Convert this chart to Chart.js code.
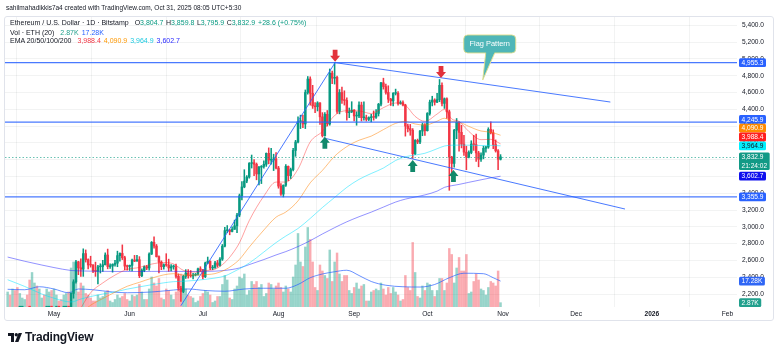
<!DOCTYPE html>
<html><head><meta charset="utf-8">
<script src="https://cdn.jsdelivr.net/npm/chart.js@4.4.1/dist/chart.umd.min.js"></script>
<style>
html,body{margin:0;padding:0;background:#fff;width:780px;height:354px;overflow:hidden;font-family:"Liberation Sans",Arial,sans-serif;color:#131722;}
#wrap{position:relative;width:780px;height:354px;}
#c{position:absolute;left:0;top:0;}
#frame{position:absolute;left:4px;top:16px;width:770px;height:305px;box-sizing:border-box;border:1px solid #e0e3eb;border-radius:3px;pointer-events:none;}
#hdr{position:absolute;left:6px;top:4px;font-size:6.5px;line-height:8px;white-space:nowrap;}
.lg{position:absolute;left:10px;font-size:7px;line-height:8px;white-space:nowrap;}
.k{margin-left:2.5px}.sp{margin-left:3px}
#logo{position:absolute;left:8px;top:330px;height:14px;display:flex;align-items:center;font-weight:bold;font-size:12px;letter-spacing:-0.2px;}
#logo svg{margin-right:3px}
</style></head>
<body><div id="wrap">
<canvas id="c" width="780" height="354"></canvas>
<div id="frame"></div>
<div id="hdr">sahilmahadikkis7a4 created with TradingView.com, Oct 31, 2025 08:05 UTC+5:30</div>
<div class="lg" id="l1" style="top:19px"></div>
<div class="lg" id="l2" style="top:28.5px"></div>
<div class="lg" id="l3" style="top:37px"></div>
<div id="logo"><svg width="14" height="9" viewBox="0 0 14 9"><path d="M0 0H6V9H3V3H0Z" fill="#131722"/><circle cx="8.3" cy="1.7" r="1.7" fill="#131722"/><path d="M10.6 0H14L10.4 9H7Z" fill="#131722"/></svg>TradingView</div>
</div>
<script>
// Days are counted from 2025-05-01 (day 0). First candle: 2025-04-12.
const firstDay = -19;
const opens = [
1566,1645,1597,1623,1588,1577,1584,1589,1614,1587,1579,1757,1796,1770,1786,1820,1793,1799,1800,
1794,1839,1843,1834,1807,1816,1818,1811,2207,2345,2583,2512,2496,2681,2609,2546,2545,2476,2471,2524,2527,2549,2664,2527,2533,2553,2567,2657,2683,2632,2532,
2528,2541,2605,2591,2609,2418,2480,2525,2510,2676,2815,2771,2645,2580,2525,2547,2545,2510,2525,2525,2410,2270,2230,2410,2450,2420,2415,2425,2435,2500,
2485,2407,2570,2590,2510,2515,2570,2542,2615,2770,2955,2960,2945,2970,3012,3140,3370,3475,3545,3593,3755,3763,3745,3630,3710,3720,3745,3875,3795,3795,3810,
3700,3485,3390,3495,3720,3610,3682,3910,4010,4255,4255,4225,4600,4760,4590,4440,4430,4475,4310,4085,4340,4225,4830,4770,4780,4375,4600,4510,4505,4360,4370,
4390,4320,4320,4450,4300,4300,4280,4300,4310,4305,4350,4460,4715,4670,4600,4520,4500,4590,4590,4470,4480,4450,4200,4170,4150,3870,4030,4010,4140,4215,
4145,4350,4485,4510,4485,4515,4685,4470,4525,4370,3830,3755,4150,4245,4125,3985,3890,3830,3885,3985,3980,3880,3805,3855,3935,3950,4160,4120,3980,3905,3804.7];
const highs = [
1690,1660,1690,1660,1620,1610,1597,1625,1635,1655,1785,1830,1800,1825,1835,1850,1825,1830,1815,
1875,1868,1850,1845,1835,1820,1850,2215,2370,2600,2590,2620,2738,2725,2620,2650,2550,2580,2540,2560,2600,2690,2735,2560,2560,2600,2710,2690,2785,2650,2545,
2545,2615,2660,2660,2645,2500,2535,2540,2690,2825,2880,2790,2655,2595,2560,2680,2615,2550,2545,2555,2440,2290,2425,2490,2490,2480,2445,2445,2510,2525,
2495,2580,2640,2595,2540,2590,2600,2635,2790,2995,3015,2970,3000,3080,3160,3390,3540,3680,3610,3765,3855,3800,3760,3720,3730,3785,3880,3940,3935,3865,3885,
3720,3515,3500,3740,3725,3700,3935,4030,4310,4330,4330,4630,4790,4785,4685,4480,4490,4480,4360,4360,4385,4880,4855,4955.3,4795,4635,4665,4620,4535,4415,4490,
4395,4370,4490,4485,4490,4330,4310,4340,4380,4395,4470,4720,4770,4700,4680,4530,4600,4640,4610,4500,4500,4460,4225,4220,4170,4040,4045,4150,4235,4230,
4360,4510,4555,4525,4590,4755,4715,4535,4535,4390,3840,4160,4290,4250,4210,4090,3960,3905,4025,4090,4105,3900,3880,3960,3960,4180,4250,4155,4035,3920,3859.8];
const lows = [
1543,1576,1595,1580,1535,1565,1572,1578,1570,1560,1570,1755,1730,1740,1775,1785,1745,1780,1745,
1792,1825,1822,1796,1790,1753,1780,1800,2150,2330,2430,2410,2410,2580,2500,2520,2455,2410,2320,2450,2470,2545,2500,2505,2460,2530,2525,2590,2610,2490,2485,
2480,2475,2585,2590,2395,2405,2465,2490,2485,2670,2745,2640,2450,2490,2495,2530,2470,2475,2495,2390,2245,2111,2215,2385,2390,2400,2380,2415,2425,2470,
2380,2395,2560,2490,2490,2505,2520,2530,2600,2760,2930,2905,2940,2970,2930,3120,3320,3465,3525,3580,3700,3610,3560,3500,3515,3700,3720,3750,3745,3670,3690,
3460,3375,3355.9,3480,3550,3575,3665,3840,4000,4170,4180,4170,4580,4450,4410,4360,4380,4220,4070,4080,4200,4210,4705,4700,4350,4345,4470,4450,4270,4300,4360,
4260,4210,4300,4260,4270,4260,4265,4250,4270,4290,4320,4440,4640,4580,4480,4445,4440,4570,4450,4460,4440,4080,4130,4090,3815,3860,3990,3990,4085,4090,
4140,4330,4440,4450,4480,4490,4440,4410,4290,3435,3630,3710,4050,3900,3940,3850,3680,3820,3870,3910,3780,3715,3780,3810,3890,3935,4105,3930,3890,3680,3795.9];
const closes = [
1645,1597,1623,1588,1577,1584,1589,1614,1587,1579,1757,1796,1770,1786,1820,1793,1799,1800,1794,
1839,1843,1834,1807,1816,1818,1811,2207,2345,2583,2512,2496,2681,2609,2546,2545,2476,2471,2524,2527,2549,2664,2527,2533,2553,2567,2657,2683,2632,2532,2528,
2541,2605,2591,2609,2418,2480,2525,2510,2676,2815,2771,2645,2580,2525,2547,2545,2510,2525,2525,2410,2270,2230,2410,2450,2420,2415,2425,2435,2500,2485,
2407,2570,2590,2510,2515,2570,2542,2615,2770,2955,2960,2945,2970,3012,3140,3370,3475,3545,3593,3755,3763,3745,3630,3710,3720,3745,3875,3795,3795,3810,3700,
3485,3390,3495,3720,3610,3682,3910,4010,4255,4255,4225,4600,4760,4590,4440,4430,4475,4310,4085,4340,4225,4830,4770,4780,4375,4600,4510,4505,4360,4370,4390,
4320,4320,4450,4300,4300,4280,4300,4310,4305,4350,4460,4715,4670,4600,4520,4500,4590,4590,4470,4480,4450,4200,4170,4150,3870,4030,4010,4140,4215,4145,
4350,4485,4510,4485,4515,4685,4470,4525,4370,3830,3755,4150,4245,4125,3985,3890,3830,3885,3985,3980,3880,3805,3855,3935,3950,4160,4120,3980,3905,3804.3,3832.9];
const volumes = [ // thousands of ETH
10,8,12,11,13,9,6,5,8,18,23,16,14,12,6,8,12,10,11,
12,8,4,5,8,9,10,26,30,29,10,16,14,9,8,6,4,4,8,6,7,10,11,4,3,5,8,6,7,9,5,
4,8,7,8,15,10,5,5,12,20,16,14,19,6,5,12,11,8,5,10,12,22,20,12,8,7,6,3,4,7,
9,11,10,8,3,4,7,7,15,21,18,6,5,12,14,20,19,22,8,11,17,15,17,13,15,7,9,16,15,12,14,
16,13,10,14,12,10,20,28,49,30,27,40,53,45,30,13,11,28,24,21,19,38,17,30,36,22,17,21,21,11,9,
13,16,12,14,15,4,4,10,11,12,11,16,12,8,13,9,13,10,8,4,5,21,13,11,43,23,7,6,14,11,
16,15,11,7,11,19,19,11,16,39,35,16,26,33,24,24,35,9,10,17,22,18,12,11,8,13,17,16,14,24,2.87];

const emaDays = [-19,-12,-5,0,7,11,15,20,25,30,35,40,45,49,53,58,63,66,70,73,76,80,86,91,95,100,105,110,115,120,125,130,135,140,144,148,152,157,160,163,166,170,175,179,183];
const ema20  = [1700,1650,1680,1725,1803,2030,2215,2332,2425,2493,2516,2556,2575,2558,2482,2460,2481,2495,2575,2675,2810,3073,3366,3533,3533,3688,4011,4137,4326,4383,4380,4349,4419,4475,4448,4315,4256,4343,4398,4284,4255,4136,4038,4042,3988.4];
const ema50  = [2000,1950,1900,1880,1883,1973,2066,2146,2222,2292,2339,2388,2428,2442,2425,2426,2432,2443,2486,2539,2612,2758,2962,3115,3176,3309,3524,3672,3841,3955,4031,4080,4158,4232,4256,4225,4211,4258,4293,4257,4248,4196,4141,4127,4090.9];
const ema100 = [2370,2290,2200,2150,2105,2140,2170,2200,2225,2258,2285,2310,2333,2347,2352,2362,2378,2390,2414,2455,2500,2568,2700,2812,2890,2980,3100,3230,3350,3470,3565,3635,3700,3790,3835,3855,3876,3930,3962,3972,3973,3972,3968,3970,3964.9];
const ema200 = [2640,2590,2545,2515,2480,2475,2472,2470,2468,2468,2468,2469,2470,2470,2468,2468,2470,2472,2480,2492,2510,2550,2610,2665,2705,2765,2835,2915,2990,3060,3120,3175,3235,3295,3330,3355,3380,3425,3470,3490,3505,3530,3560,3583,3602.7];
const volMaDays = [-19,-12,-6,0,6,10,16,24,30,40,47,55,62,70,78,86,95,100,105,110,115,120,125,130,136,143,150,156,162,168,176,180,183];
const volMa     = [11.8,11.5,13.5,12,9.5,12,11.5,10,9.5,10,11,12,11,10.5,12,12.5,12.5,15,19.5,22,23.5,24.5,21,17,14.5,13.5,13.3,15,19.5,22.5,22.2,19.5,17.28];

const levels = [4955.3, 4245.9, 3355.9];
const riseLine   = [[52, 2060], [115.2, 4955.3]];
const flagTop    = [[115.2, 4955.3], [228, 4486]];
const flagBottom = [[110.5, 4058], [234, 3212]];
const arrowsDown = [[115.2, 4967], [158.6, 4772]];
const arrowsUp   = [[111, 4073], [147, 3796], [163.7, 3677]];
const callout = {day: 175.7, price: 4749, text: 'Flag Pattern'};
const countdown = '21:24:02';

const monthTickDays   = [0, 31, 61, 92, 123, 153, 184, 214, 245, 276];
const monthTickLabels = ['May','Jun','Jul','Aug','Sep','Oct','Nov','Dec','2026','Feb'];
const priceTicks = [2200,2400,2600,2800,3000,3200,3400,3600,3800,4000,4200,4400,4600,4800,5000,5200,5400];

// ---------- build ----------
const FONT = '"Liberation Sans", Arial, sans-serif';
const UP = '#089981', DN = '#f23645';
const days = closes.map((_, i) => firstDay + i);
const isUp = closes.map((c, i) => c >= opens[i]);
const candleCol = isUp.map(u => u ? UP : DN);
const volCol = isUp.map(u => u ? 'rgba(8,153,129,0.42)' : 'rgba(242,54,69,0.42)');
const last = a => a[a.length - 1];
const fmt = v => v.toLocaleString('en-US', {minimumFractionDigits: 1, maximumFractionDigits: 1});
const X_MIN = -20.08, X_MAX = 279.9, Y_MIN = 2045.2, Y_MAX = 5498.8, VOL_MAX = 193.3;

const pts = (xs, ys) => xs.map((d, i) => ({x: d, y: ys[i]}));
const seg = s => s.map(p => ({x: p[0], y: p[1]}));
const LINE_BLUE = 'rgba(41,98,255,0.85)';

const datasets = [
  {type:'bar', data: days.map((d,i)=>({x:d, y:volumes[i]})), yAxisID:'yVol', backgroundColor: volCol, barThickness: 1.8, grouped:false, order: 100},
  {type:'line', data: pts(volMaDays, volMa), yAxisID:'yVol', borderColor:'rgba(41,98,255,0.7)', borderWidth:1, pointRadius:0, cubicInterpolationMode:'monotone', order: 90},
  {type:'bar', data: days.map((d,i)=>({x:d, y:[lows[i], highs[i]]})), yAxisID:'y', backgroundColor: candleCol, barThickness: 0.9, grouped:false, order: 50},
  {type:'bar', data: days.map((d,i)=>({x:d, y:[Math.min(opens[i],closes[i]), Math.max(opens[i],closes[i])]})), yAxisID:'y', backgroundColor: candleCol, barThickness: 1.8, minBarLength: 0.8, grouped:false, order: 40},
  {type:'line', data: pts(emaDays, ema20),  yAxisID:'y', borderColor:'rgba(255,30,30,0.42)', borderWidth:1, pointRadius:0, cubicInterpolationMode:'monotone', order: 30},
  {type:'line', data: pts(emaDays, ema50),  yAxisID:'y', borderColor:'rgba(255,130,0,0.5)', borderWidth:1, pointRadius:0, cubicInterpolationMode:'monotone', order: 30},
  {type:'line', data: pts(emaDays, ema100), yAxisID:'y', borderColor:'rgba(0,225,255,0.5)', borderWidth:1, pointRadius:0, cubicInterpolationMode:'monotone', order: 30},
  {type:'line', data: pts(emaDays, ema200), yAxisID:'y', borderColor:'rgba(40,40,255,0.5)', borderWidth:1, pointRadius:0, cubicInterpolationMode:'monotone', order: 30},
  ...levels.map(v => ({type:'line', data:[{x:X_MIN,y:v},{x:X_MAX,y:v}], yAxisID:'y', borderColor:LINE_BLUE, borderWidth:1.2, pointRadius:0, order: 20})),
  ...[riseLine, flagTop, flagBottom].map(s => ({type:'line', data: seg(s), yAxisID:'y', borderColor:LINE_BLUE, borderWidth:1, pointRadius:0, order: 20}))
];

function rr(ctx, x, y, w, h, r){ ctx.beginPath(); ctx.moveTo(x+r,y); ctx.lineTo(x+w-r,y); ctx.quadraticCurveTo(x+w,y,x+w,y+r); ctx.lineTo(x+w,y+h-r); ctx.quadraticCurveTo(x+w,y+h,x+w-r,y+h); ctx.lineTo(x+r,y+h); ctx.quadraticCurveTo(x,y+h,x,y+h-r); ctx.lineTo(x,y+r); ctx.quadraticCurveTo(x,y,x+r,y); ctx.closePath(); }

function arrow(ctx, px, py, dir, color){
  ctx.fillStyle = color;
  ctx.beginPath();
  ctx.moveTo(px, py);
  ctx.lineTo(px - 5, py - 6*dir);
  ctx.lineTo(px - 2.4, py - 6*dir);
  ctx.lineTo(px - 2.4, py - 12*dir);
  ctx.lineTo(px + 2.4, py - 12*dir);
  ctx.lineTo(px + 2.4, py - 6*dir);
  ctx.lineTo(px + 5, py - 6*dir);
  ctx.closePath();
  ctx.fill();
}

const overlay = {
  id: 'overlay',
  afterDatasetsDraw(chart){
    const {ctx, chartArea: a, scales: {x, y}} = chart;
    ctx.save();
    ctx.beginPath(); ctx.rect(a.left, a.top, a.right - a.left, a.bottom - a.top); ctx.clip();
    const yc = Math.round(y.getPixelForValue(last(closes))) + 0.5;
    ctx.setLineDash([1.5, 2]); ctx.strokeStyle = 'rgba(8,153,129,0.6)'; ctx.lineWidth = 1;
    ctx.beginPath(); ctx.moveTo(a.left, yc); ctx.lineTo(a.right, yc); ctx.stroke(); ctx.setLineDash([]);
    arrowsDown.forEach(p => arrow(ctx, x.getPixelForValue(p[0]), y.getPixelForValue(p[1]), 1, '#e2323c'));
    arrowsUp.forEach(p => arrow(ctx, x.getPixelForValue(p[0]), y.getPixelForValue(p[1]), -1, '#11896b'));
    const tx = x.getPixelForValue(callout.day), ty = y.getPixelForValue(callout.price);
    const bx = tx - 19, by = ty - 45, bw = 52, bh = 18;
    ctx.fillStyle = '#4fb6b8';
    ctx.strokeStyle = 'rgba(225,222,140,0.9)'; ctx.lineWidth = 1;
    rr(ctx, bx, by, bw, bh, 4); ctx.fill(); ctx.stroke();
    ctx.beginPath(); ctx.moveTo(tx + 3, by + bh - 0.5); ctx.lineTo(tx + 12, by + bh - 0.5); ctx.lineTo(tx, ty); ctx.closePath();
    ctx.fill();
    ctx.beginPath(); ctx.moveTo(tx + 3, by + bh); ctx.lineTo(tx, ty); ctx.lineTo(tx + 12, by + bh); ctx.stroke();
    ctx.fillStyle = '#4fb6b8'; ctx.fillRect(tx + 3.5, by + bh - 2, 8, 2.2);
    ctx.fillStyle = '#ffffff'; ctx.font = '7.4px ' + FONT; ctx.textAlign = 'center'; ctx.textBaseline = 'middle';
    ctx.fillText(callout.text, bx + bw/2, by + bh/2 + 0.5);
    ctx.restore();
  },
  afterDraw(chart){
    const {ctx, chartArea: a, scales: {y, yVol}} = chart;
    const H = 8.8;
    const items = [
      ...levels.map(v => ({v, t: fmt(v), bg:'#2962ff', fg:'#fff'})),
      {v: last(ema50), t: fmt(last(ema50)), bg:'#ff8a00', fg:'#fff'},
      {v: last(ema20), t: fmt(last(ema20)), bg:'#ff1e1e', fg:'#fff'},
      {v: last(ema100), t: fmt(last(ema100)), bg:'#00f0ff', fg:'#131722'},
      {v: last(closes), t: fmt(last(closes)), t2: countdown, bg:'#129a86', fg:'#fff'},
      {v: last(ema200), t: fmt(last(ema200)), bg:'#1010ee', fg:'#fff'}
    ].map(b => { const yy = y.getPixelForValue(b.v); return {...b, top: yy - H/2, hh: b.t2 ? 2*H : H}; })
     .sort((p, q) => p.top - q.top);
    for (let i = items.length - 2; i >= 0; i--) {
      if (items[i].top + items[i].hh > items[i+1].top) items[i].top = items[i+1].top - items[i].hh;
    }
    const volItems = [
      {top: yVol.getPixelForValue(last(volMa)) - H/2, hh: H, t: last(volMa).toFixed(2) + 'K', bg:'#2f66f5', fg:'#fff'},
      {top: yVol.getPixelForValue(last(volumes)) - H/2, hh: H, t: last(volumes).toFixed(2) + 'K', bg:'#22a08d', fg:'#fff'}
    ];
    ctx.save();
    ctx.font = '6.6px ' + FONT; ctx.textBaseline = 'middle'; ctx.textAlign = 'left';
    [...items, ...volItems].forEach(b => {
      const w = Math.max(ctx.measureText(b.t).width, b.t2 ? ctx.measureText(b.t2).width : 0) + 5;
      const bx = a.right + 2;
      ctx.fillStyle = b.bg; rr(ctx, bx, b.top, w, b.hh, 1.5); ctx.fill();
      ctx.fillStyle = b.fg;
      ctx.fillText(b.t, bx + 2.5, b.top + H/2 + 0.3);
      if (b.t2) ctx.fillText(b.t2, bx + 2.5, b.top + H*1.5 + 0.3);
    });
    ctx.restore();
  }
};

new Chart(document.getElementById('c'), {
  type: 'bar',
  data: {datasets},
  options: {
    responsive: false, animation: false, events: [],
    layout: {padding: {left: 5, top: 17, right: 0, bottom: 0}},
    plugins: {legend: {display: false}, tooltip: {enabled: false}},
    scales: {
      x: {
        type: 'linear', min: X_MIN, max: X_MAX, offset: false,
        afterBuildTicks: s => { s.ticks = monthTickDays.map(v => ({value: v})); },
        afterFit: s => { s.height = 47; },
        grid: {color: 'rgba(42,46,57,0.06)', drawTicks: false},
        border: {display: false},
        ticks: {
          autoSkip: false, maxRotation: 0, padding: 3, color: '#131722',
          font: c => ({size: 6.6, family: FONT, weight: c.index === 8 ? 'bold' : 'normal'}),
          callback: (v, i) => monthTickLabels[i]
        }
      },
      y: {
        type: 'linear', position: 'right', min: Y_MIN, max: Y_MAX,
        afterBuildTicks: s => { s.ticks = priceTicks.map(v => ({value: v})); },
        afterFit: s => { s.width = 43; },
        grid: {color: 'rgba(42,46,57,0.06)', drawTicks: false},
        border: {display: false},
        ticks: {autoSkip: false, padding: 5, crossAlign: 'near', color: '#131722', font: {size: 6.6, family: FONT}, callback: v => fmt(v)}
      },
      yVol: {type: 'linear', display: false, min: 0, max: VOL_MAX}
    }
  },
  plugins: [overlay]
});

const n = closes.length;
const chg = closes[n-1] - closes[n-2];
const pct = chg / closes[n-2] * 100;
const G = s => `<span style="color:#089981">${s}</span>`;
const sgn = v => (v >= 0 ? '+' : '');
document.getElementById('l1').innerHTML =
  `Ethereum / U.S. Dollar · 1D · Bitstamp<span class="k" style="margin-left:6px">O</span>${G(fmt(opens[n-1]))}<span class="k">H</span>${G(fmt(highs[n-1]))}<span class="k">L</span>${G(fmt(lows[n-1]))}<span class="k">C</span>${G(fmt(closes[n-1]))}<span class="sp">${G(sgn(chg) + fmt(chg) + ' (' + sgn(pct) + pct.toFixed(2) + '%)')}</span>`;
document.getElementById('l2').innerHTML =
  `Vol · ETH (20)<span class="sp" style="margin-left:6px;color:#22a08d">${last(volumes).toFixed(2)}K</span><span class="sp" style="color:#2962ff">${last(volMa).toFixed(2)}K</span>`;
document.getElementById('l3').innerHTML =
  `EMA 20/50/100/200<span class="sp" style="margin-left:6px;color:#f23645">${fmt(last(ema20))}</span><span class="sp" style="color:#ff9800">${fmt(last(ema50))}</span><span class="sp" style="color:#1cc9e0">${fmt(last(ema100))}</span><span class="sp" style="color:#2a2aff">${fmt(last(ema200))}</span>`;
</script>
</body></html>
